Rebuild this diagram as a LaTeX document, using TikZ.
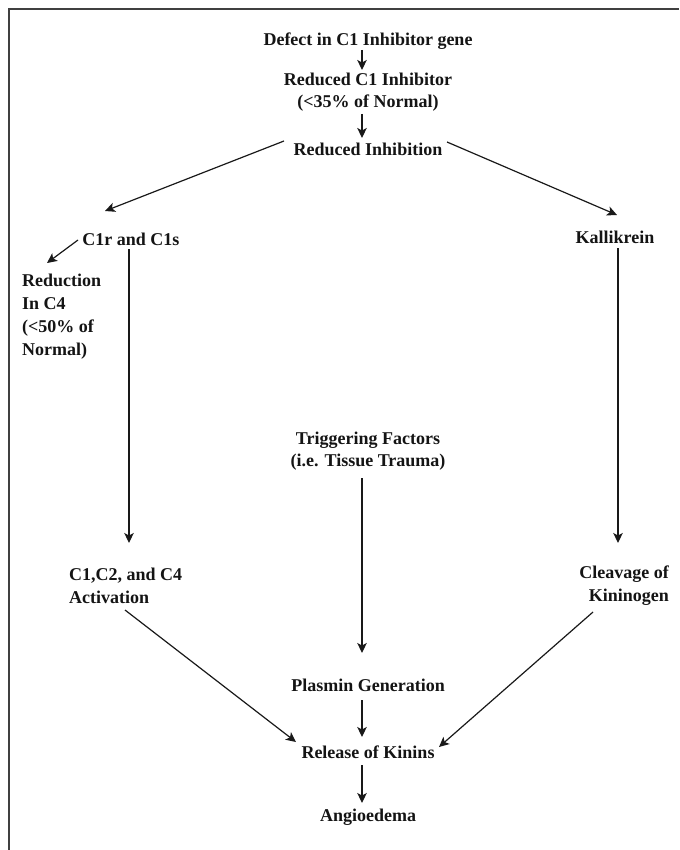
\documentclass[tikz,border=0pt]{standalone}
\usepackage{fontspec}
\setmainfont{Liberation Serif}
\usetikzlibrary{arrows.meta}
\begin{document}
\begin{tikzpicture}[x=1pt,y=-1pt,
  lbl/.style={inner sep=0pt,font=\bfseries\fontsize{18}{23}\selectfont,text=black!92},
  arr/.style={line width=1.2pt,black!90,-{Stealth[length=10pt,width=9.5pt,inset=2.5pt]}},
  frame/.style={line width=1.1pt,black!75}]
\useasboundingbox (0,0) rectangle (679,850);
\draw[frame] (9,850) -- (9,9) -- (679,9);
% nodes
\node[lbl] (defect) at (368,41) {Defect in C1 Inhibitor gene};
\node[lbl,align=center,font=\bfseries\fontsize{18}{22.5}\selectfont] (redc1) at (368,92) {Reduced C1 Inhibitor\\(<35\% of Normal)};
\node[lbl] (redinh) at (368,149) {Reduced Inhibition};
\node[lbl] (c1r) at (131,239) {C1r and C1s};
\node[lbl] (kal) at (615,237) {Kallikrein};
\node[lbl,align=left,anchor=west] (reduction) at (22,316.5) {Reduction\\In C4\\(<50\% of\\Normal)};
\node[lbl,align=center,font=\bfseries\fontsize{18}{22}\selectfont] (trig) at (368,451) {Triggering Factors\\(i.e. Tissue Trauma)};
\node[lbl,align=left,anchor=west] (c1c2) at (69,585.5) {C1,C2, and C4\\Activation};
\node[lbl,align=right,anchor=east] (cleav) at (669,585.5) {Cleavage of\\Kininogen};
\node[lbl] (plasmin) at (368,685) {Plasmin Generation};
\node[lbl] (release) at (368,752) {Release of Kinins};
\node[lbl] (angio) at (368,817) {Angioedema};
% connectors
\draw[arr] ([shift={(-6,9)}]defect.center) -- ([shift={(-6,-22)}]redc1.center);
\draw[arr] ([shift={(-6,22)}]redc1.center) -- ([shift={(-6,-11)}]redinh.center);
\draw[arr] ([shift={(-84,-8)}]redinh.center) -- ([shift={(-26,-28)}]c1r.center);
\draw[arr] ([shift={(79,-7)}]redinh.center) -- ([shift={(2,-22)}]kal.center);
\draw[arr] ([shift={(-53,1)}]c1r.center) -- ([shift={(25,-53.5)}]reduction.west);
\draw[arr] ([shift={(-2,10)}]c1r.center) -- ([shift={(60,-42.5)}]c1c2.west);
\draw[arr] ([shift={(3,11)}]kal.center) -- ([shift={(-51,-42.5)}]cleav.east);
\draw[arr] ([shift={(-6,27)}]trig.center) -- ([shift={(-6,-32)}]plasmin.center);
\draw[arr] ([shift={(56,24.5)}]c1c2.west) -- ([shift={(-72,-10)}]release.center);
\draw[arr] ([shift={(-76,26.5)}]cleav.east) -- ([shift={(71,-5)}]release.center);
\draw[arr] ([shift={(-6,15)}]plasmin.center) -- ([shift={(-6,-15)}]release.center);
\draw[arr] ([shift={(-6,13)}]release.center) -- ([shift={(-6,-14)}]angio.center);
\end{tikzpicture}
\end{document}
